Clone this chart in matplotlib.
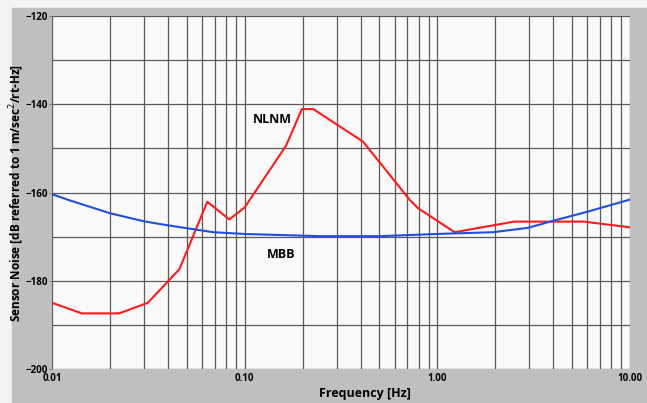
import numpy as np
import matplotlib.pyplot as plt
from matplotlib.patches import Rectangle
from matplotlib.ticker import FixedLocator, LogLocator, NullFormatter

# NLNM (Peterson) - red curve
nlnm_f = [0.01, 0.0143, 0.0223, 0.0314, 0.0458, 0.064, 0.0832, 0.100,
          0.164, 0.198, 0.227, 0.412, 0.72, 0.796, 1.23, 2.5, 5.78, 10.0]
nlnm_db = [-185.0, -187.4, -187.4, -185.0, -177.4, -162.1, -166.1, -163.4,
           -149.4, -141.1, -141.1, -148.5, -161.7, -163.6, -169.0, -166.6,
           -166.6, -167.9]

# MBB sensor noise - blue curve
mbb_f = [0.01, 0.0122, 0.020, 0.0298, 0.0394, 0.0687, 0.100, 0.246,
         0.504, 0.99, 1.95, 2.96, 4.0, 5.96, 10.0]
mbb_db = [-160.4, -161.7, -164.7, -166.5, -167.4, -169.0, -169.4, -169.9,
          -169.9, -169.4, -169.0, -168.0, -166.4, -164.4, -161.6]

xticks = [0.01, 0.1, 1.0, 10.0]
xticklabels = ['0.01', '0.10', '1.00', '10.00']
yticks = [-120, -140, -160, -180, -200]

plt.rcParams['font.family'] = ['Open Sans', 'DejaVu Sans']

fig = plt.figure(figsize=(6.47, 4.03), dpi=100)
fig.patch.set_facecolor('#f3f3f3')
W, H = 647.0, 403.0
# grey frame behind the plot
frame = Rectangle((12 / W, 0), 1 - 12 / W, 1 - 8 / H,
                  transform=fig.transFigure, color='#bfbfbf', zorder=-10)
fig.add_artist(frame)

ax = fig.add_axes([52 / W, 1 - 369 / H, (630 - 52) / W, (369 - 16) / H])
ax.set_zorder(1)
ax.set_facecolor('#fafafa')

ax.plot(nlnm_f, nlnm_db, color='#ff1a1a', lw=1.5, zorder=3)
ax.plot(mbb_f, mbb_db, color='#1f4fe0', lw=1.5, zorder=3)

ax.set_xscale('log')
ax.set_xlim(0.01, 10)
ax.set_ylim(-200, -120)

ax.xaxis.set_major_locator(FixedLocator(xticks))
ax.set_xticklabels(xticklabels)
ax.xaxis.set_minor_locator(LogLocator(base=10, subs=np.arange(2, 10)))
ax.xaxis.set_minor_formatter(NullFormatter())
ax.yaxis.set_major_locator(FixedLocator(yticks))
ax.yaxis.set_minor_locator(FixedLocator(np.arange(-200, -119, 10)))

ax.grid(which='both', axis='both', color='#5a5a5a', lw=0.9)
ax.tick_params(which='both', length=0, labelsize=7, pad=3)
ax.tick_params(axis='y', which='major', length=2, pad=1, color='#808080')
for lab in ax.get_xticklabels() + ax.get_yticklabels():
    lab.set_fontweight('bold')

for s in ax.spines.values():
    s.set_visible(False)

ax.set_xlabel('Frequency [Hz]', fontsize=9, fontweight='bold')
ax.xaxis.set_label_coords((365 - 52) / (630 - 52), -(387 - 369) / (369 - 16))
ax.set_ylabel('Sensor Noise [dB referred to 1 m/sec$^2$/rt-Hz]', fontsize=8.5,
              fontweight='bold')
ax.yaxis.set_label_coords(-(52 - 26) / (630 - 52), (369 - 193) / (369 - 16))

ax.text(0.14, -143.5, 'NLNM', fontsize=9, fontweight='bold', ha='center',
        va='center')
ax.text(0.155, -174.0, 'MBB', fontsize=9, fontweight='bold', ha='center',
        va='center')

fig.savefig('out.png', dpi=100, facecolor=fig.get_facecolor())
